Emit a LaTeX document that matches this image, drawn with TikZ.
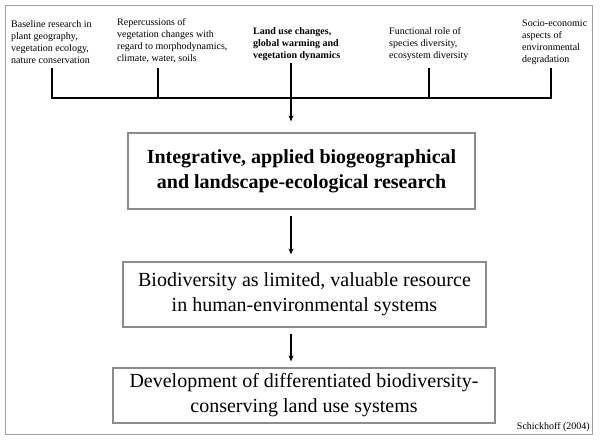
\documentclass[tikz,border=0pt]{standalone}
\usepackage{fontspec}
\setmainfont{Liberation Serif}
\usetikzlibrary{arrows.meta}
\definecolor{framegray}{HTML}{A0A0A0}
\definecolor{boxgray}{HTML}{8C8C8C}
\tikzset{
  topic/.style={anchor=north west, align=left, inner sep=0pt, font=\fontsize{10}{12}\selectfont},
  stage/.style={draw=boxgray, line width=1.2pt, inner sep=0pt, align=center, font=\fontsize{20}{25}\selectfont},
  bar/.style={line width=2pt},
  flow/.style={line width=1.3pt, -{Stealth[length=6pt,width=5pt]}}
}
\begin{document}
\begin{tikzpicture}[x=1pt,y=-1pt]
\useasboundingbox (0,0) rectangle (600,441);
\draw[framegray, line width=1.5pt] (5.5,5.5) rectangle (592.5,434.5);

% research fields
\node[topic] (t1) at (11,20) {Baseline research in\\plant geography,\\vegetation ecology,\\nature conservation};
\node[topic] (t2) at (117,18) {Repercussions of\\vegetation changes with\\regard to morphodynamics,\\climate, water, soils};
\node[topic, font=\fontsize{10}{12}\selectfont\bfseries] (t3) at (253,27) {Land use changes,\\global warming and\\vegetation dynamics};
\node[topic] (t4) at (389,27) {Functional role of\\species diversity,\\ecosystem diversity};
\node[topic] (t5) at (522,20) {Socio-economic\\aspects of\\environmental\\degradation};

% bracket
\coordinate (k1) at (52,68);
\coordinate (k2) at (158,68);
\coordinate (k3) at (291,63);
\coordinate (k4) at (429,68);
\coordinate (k5) at (551,68);
\coordinate (busL) at (52,98);
\coordinate (busR) at (551,98);
\draw[bar] (k1) -- (busL) -- (busR) -- (k5);
\draw[bar] (k2) -- (k2 |- busL);
\draw[bar] (k4) -- (k4 |- busL);

% stages
\node[stage, font=\fontsize{20}{25}\selectfont\bfseries, minimum width=347pt, minimum height=76pt] (b1) at (301.5,171) {Integrative, applied biogeographical\\and landscape-ecological research};
\node[stage, minimum width=363pt, minimum height=65pt] (b2) at (304.5,294.5) {\raisebox{3pt}{\parbox{360pt}{\centering Biodiversity as limited, valuable resource\\in human-environmental systems}}};
\node[stage, minimum width=382pt, minimum height=55pt] (b3) at (304,395.5) {Development of differentiated biodiversity-\\conserving land use systems};

\draw[bar, -{Stealth[length=6pt,width=5pt]}, shorten >=11pt] (k3) -- (b1.north -| k3);
\draw[flow, shorten <=6pt, shorten >=7pt] (b1.south -| k3) -- (b2.north -| k3);
\draw[flow, shorten <=6pt, shorten >=6pt] (b2.south -| k3) -- (b3.north -| k3);

\node[anchor=base east, inner sep=0pt, font=\fontsize{10}{12}\selectfont] (src) at (590,429) {Schickhoff (2004)};
\end{tikzpicture}
\end{document}
